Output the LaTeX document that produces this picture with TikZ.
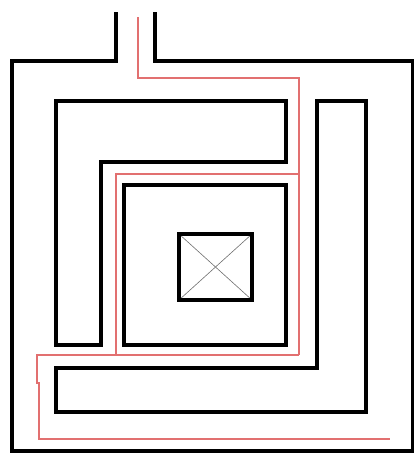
\documentclass[tikz,border=0pt]{standalone}
\usetikzlibrary{calc}
\definecolor{pathred}{RGB}{226,112,112}
\definecolor{xgray}{RGB}{110,110,110}
\tikzset{
  wall/.style={line width=3.6pt, black, line join=miter},
  route/.style={line width=1.1pt, pathred},
  cross/.style={line width=0.6pt, xgray}
}
\begin{document}
\begin{tikzpicture}[x=1pt,y=-1pt]
\useasboundingbox (0,0) rectangle (414,455);
% outer wall with entrance
\draw[wall] (116,12) -- (116,61) -- (12,61) -- (12,451) -- (412.5,451) -- (412.5,61) -- (155,61) -- (155,12);
% upper-left L wall
\draw[wall] (56,101) -- (286,101) -- (286,162) -- (101,162) -- (101,345) -- (56,345) -- cycle;
% right/bottom L wall
\draw[wall] (317,101) -- (366,101) -- (366,412) -- (56,412) -- (56,368) -- (317,368) -- cycle;
% inner square
\draw[wall] (124,185) rectangle (286,345);
% centre box with cross
\coordinate (bA) at (179,234);
\coordinate (bB) at (252,300);
\draw[cross] (bA) -- (bB);
\draw[cross] (bA |- bB) -- (bB |- bA);
\draw[wall, line width=3.2pt] (bA) rectangle (bB);
% red route
\coordinate (r0) at (138,17);
\coordinate (r1) at (138,78);
\coordinate (r2) at (299,78);
\coordinate (r3) at (299,355);
\coordinate (r4) at (116,174);
\coordinate (r5) at (116,355);
\coordinate (r6) at (37,355);
\coordinate (r7) at (37,383);
\coordinate (r8) at (39,383);
\coordinate (r9) at (39,439);
\coordinate (r10) at (390,439);
\draw[route] (r0) -- (r1) -- (r2) -- (r3);
\draw[route] (r2 |- r4) -- (r4) -- (r5);
\draw[route] (r3) -- (r6) -- (r7) -- (r8) -- (r9) -- (r10);
\end{tikzpicture}
\end{document}
